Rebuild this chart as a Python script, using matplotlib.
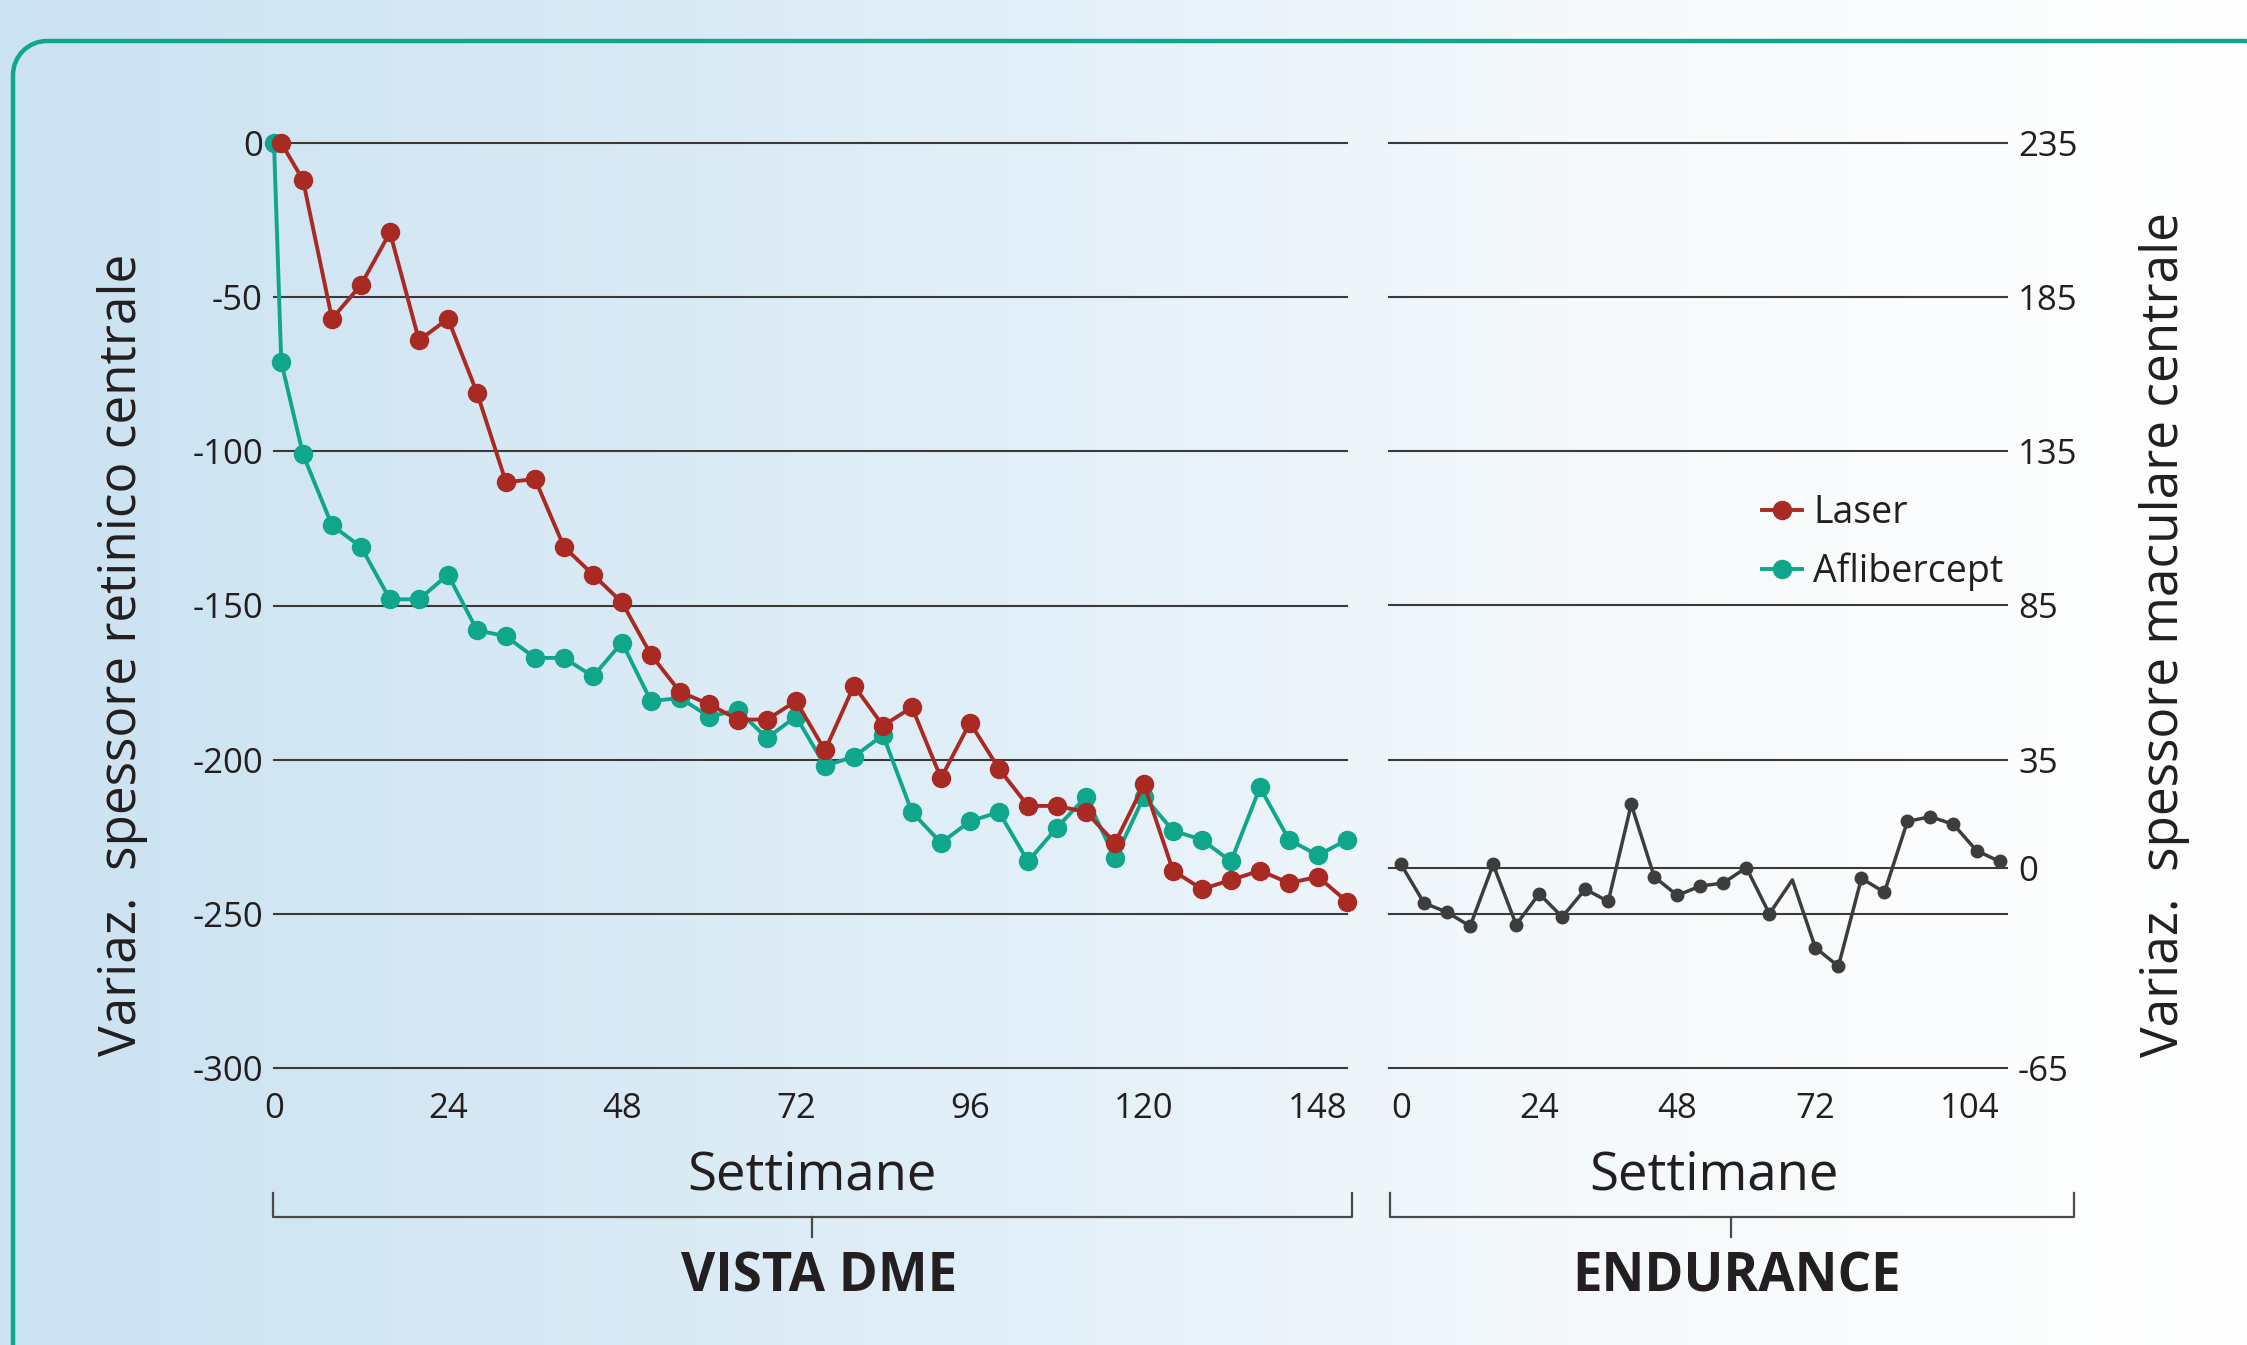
import numpy as np
import matplotlib
matplotlib.use('Agg')
import matplotlib.pyplot as plt
from matplotlib.patches import Arc
from matplotlib.colors import LinearSegmentedColormap

# VISTA DME - variazione spessore retinico centrale (settimane)
laser_weeks = [1] + list(range(4, 149, 4))
laser = [0, -12, -57, -46, -29, -64, -57, -81, -110, -109,
         -131, -140, -149, -166, -178, -182, -187, -187, -181, -197,
         -176, -189, -183, -206, -188, -203, -215, -215, -217, -227,
         -208, -236, -242, -239, -236, -240, -238, -246]
aflib_weeks = [0, 1] + list(range(4, 149, 4))
aflib = [0, -71, -101, -124, -131, -148, -148, -140, -158, -160,
         -167, -167, -173, -162, -181, -180, -186, -184, -193, -186,
         -202, -199, -192, -217, -227, -220, -217, -233, -222, -212,
         -232, -212, -223, -226, -233, -209, -226, -231, -226]

# ENDURANCE - variazione spessore maculare centrale
endur_weeks = list(range(0, 105, 4))
endur = [1, -11.5, -14.5, -19, 1, -18.5, -8.5, -16, -7, -11,
         20.5, -3, -9, -6, -5, 0, -15, -4, -26, -32,
         -3.5, -8, 15, 16.5, 14, 5.5, 2]
endur_no_marker = [17]   # vertex drawn without a dot in the original

left_xticks = [0, 24, 48, 72, 96, 120, 148]
left_yticks = [0, -50, -100, -150, -200, -250, -300]
right_xticks = [0, 24, 48, 72, 104]
right_yticks = [235, 185, 135, 85, 35, 0, -15, -65]
right_ylabels = ['235', '185', '135', '85', '35', '0', '', '-65']

RED = '#a82a22'
TEAL = '#0fa68c'
GREY = '#3d3d3d'
INK = '#231f20'
plt.rcParams['font.family'] = ['Open Sans', 'DejaVu Sans']

W, H = 2247, 1345
fig = plt.figure(figsize=(W / 100, H / 100), dpi=100)

# background in pixel coordinates
bg = fig.add_axes([0, 0, 1, 1], zorder=-10)
cmap = LinearSegmentedColormap.from_list(
    'bg', [(0, '#cbe2f1'), (0.45, '#e2eff8'), (0.7, '#f5f9fb'), (1, '#ffffff')])
bg.imshow(np.linspace(0, 1, 512)[None, :], extent=[0, W, H, 0], aspect='auto', cmap=cmap)
# teal frame: rounded top-left corner, top edge, left edge
r = 34
bg.plot([13 + r, 2243], [41, 41], color=TEAL, lw=3.2, solid_capstyle='butt')
bg.plot([13, 13], [41 + r, H + 10], color=TEAL, lw=3.2, solid_capstyle='butt')
bg.add_patch(Arc((13 + r, 41 + r), 2 * r, 2 * r, theta1=180, theta2=270, color=TEAL, lw=3.2))
bg.add_patch(Arc((2243, 41 + r), 2 * r, 2 * r, theta1=270, theta2=360, color=TEAL, lw=3.2))
# brackets under the two studies
for x0, x1, xm in [(273, 1352, 812), (1390, 2074, 1731)]:
    bg.plot([x0, x0, x1, x1], [1193, 1217, 1217, 1193], color='#4a4a4a', lw=1.6)
    bg.plot([xm, xm], [1217, 1237], color='#4a4a4a', lw=1.6)
bg.set_xlim(0, W)
bg.set_ylim(H, 0)
bg.axis('off')

top, bot = 143, 1068
axL = fig.add_axes([274 / W, 1 - bot / H, (1347 - 274) / W, (bot - top) / H])
axR = fig.add_axes([1389 / W, 1 - bot / H, (2007 - 1389) / W, (bot - top) / H])

for ax in (axL, axR):
    ax.set_facecolor('none')
    for s in ax.spines.values():
        s.set_visible(False)
    ax.tick_params(length=0, labelsize=25, labelcolor=INK)
    ax.tick_params(axis='x', pad=17)
    ax.tick_params(axis='y', pad=8)

# left: VISTA DME
axL.set_xlim(0, 148)
axL.set_ylim(-300, 0)
for v in left_yticks:
    axL.axhline(v, color='#3a3a3a', lw=1.5, clip_on=False, zorder=1)
axL.plot(aflib_weeks, aflib, color=TEAL, lw=2.8, marker='o', ms=13,
         clip_on=False, zorder=3, label='Aflibercept')
axL.plot(laser_weeks, laser, color=RED, lw=2.8, marker='o', ms=13,
         clip_on=False, zorder=4, label='Laser')
axL.set_xticks(left_xticks, [str(t) for t in left_xticks])
axL.get_xticklabels()[-1].set_ha('right')
axL.set_yticks(left_yticks, [str(t) for t in left_yticks])

# right: ENDURANCE
axR.set_xlim(-2.1, 105.3)
axR.set_ylim(-65, 235)
for v in right_yticks:
    axR.axhline(v, color='#3a3a3a', lw=1.5, clip_on=False, zorder=1)
marked = [i for i in range(len(endur)) if i not in endur_no_marker]
axR.plot(endur_weeks, endur, color=GREY, lw=2.5, marker='o', ms=9,
         markevery=marked, clip_on=False, zorder=3)
axR.set_xticks(right_xticks, [str(t) for t in right_xticks])
axR.get_xticklabels()[-1].set_ha('right')
axR.yaxis.tick_right()
axR.set_yticks(right_yticks, right_ylabels)

# legend
h, l = axL.get_legend_handles_labels()
fig.legend(h[::-1], l[::-1], loc='upper left', bbox_to_anchor=(1762 / W, 1 - 494 / H),
           frameon=False, fontsize=27, handlelength=1.07, handletextpad=0.3,
           borderpad=0, borderaxespad=0, labelspacing=0.55, labelcolor=INK)

# axis titles
fig.text(123 / W, 1 - 655 / H, 'Variaz.  spessore retinico centrale', rotation=90,
         ha='center', va='center', fontsize=37, color=INK)
fig.text(2164 / W, 1 - 635 / H, 'Variaz.  spessore maculare centrale', rotation=90,
         ha='center', va='center', fontsize=37, color=INK)
fig.text(812 / W, 1 - 1189 / H, 'Settimane', ha='center', va='baseline', fontsize=38, color=INK)
fig.text(1714 / W, 1 - 1189 / H, 'Settimane', ha='center', va='baseline', fontsize=38, color=INK)
fig.text(819 / W, 1 - 1291 / H, 'VISTA DME', ha='center', va='baseline', fontsize=38,
         fontweight='bold', color=INK)
fig.text(1737 / W, 1 - 1291 / H, 'ENDURANCE', ha='center', va='baseline', fontsize=38,
         fontweight='bold', color=INK)

fig.savefig('out.png', dpi=100)
